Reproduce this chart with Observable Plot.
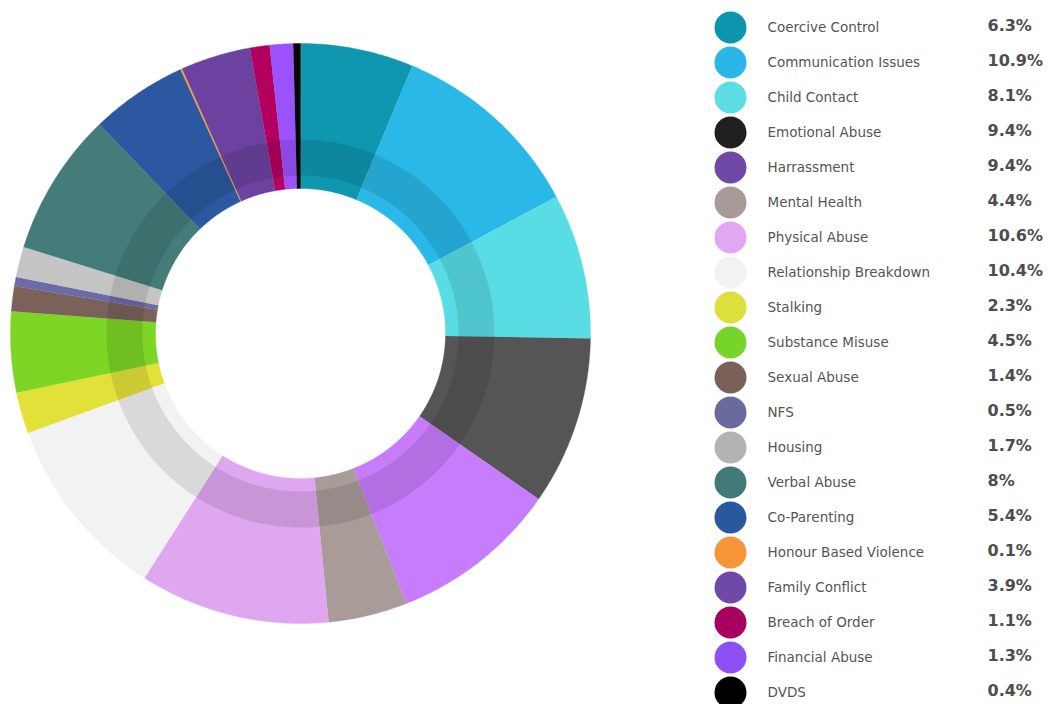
<!DOCTYPE html>
<html><head><meta charset="utf-8">
<script src="https://cdn.jsdelivr.net/npm/d3@7"></script>
<script src="https://cdn.jsdelivr.net/npm/@observablehq/plot@0.6"></script>
<style>
body{margin:0;background:#fff;}
#wrap{position:relative;width:1052px;height:704px;overflow:hidden;}
#donut{position:absolute;left:0;top:0;}
#legend{position:absolute;left:700px;top:0;}
g[aria-label="pct"] text{letter-spacing:1px;}
</style></head><body><div id="wrap"><div id="donut"></div><div id="legend"></div></div>
<script>
const categories = ["Coercive Control","Communication Issues","Child Contact","Emotional Abuse","Harrassment","Mental Health","Physical Abuse","Relationship Breakdown","Stalking","Substance Misuse","Sexual Abuse","NFS","Housing","Verbal Abuse","Co-Parenting","Honour Based Violence","Family Conflict","Breach of Order","Financial Abuse","DVDS"];
const percentages = [6.3,10.9,8.1,9.4,9.4,4.4,10.6,10.4,2.3,4.5,1.4,0.5,1.7,8,5.4,0.1,3.9,1.1,1.3,0.4];
const sliceColors = ["#1097b0","#29b8e8","#58dde5","#555555","#c77cfc","#a89b98","#dfa7f0","#f2f2f2","#e1e13a","#7dd524","#7a625b","#6c6ba8","#c5c5c5","#447c79","#2b58a1","#f7963a","#6b42a0","#b3005f","#9a52fb","#050505"];
const legendColors = ["#0d95ad","#29b6e8","#5ddde6","#221f1f","#6f48a8","#a89a98","#e0a8f0","#f2f2f2","#dde03c","#77d428","#7a6058","#6a6a9e","#b3b3b3","#417978","#2a589f","#f7953a","#7049a8","#a8005e","#8e4ff5","#000000"];

const rows = categories.map((name, i) => ({name, value: percentages[i], sliceColor: sliceColors[i], legendColor: legendColors[i]}));

// geometry (radii relative to outer radius)
const W = 600, H = 704, CX = 300, CY = 333, R = 290;
const R_OUT = 1, R_IN = 145 / R, BAND_IN = 158 / R, BAND_OUT = 194 / R;

function ring(a0, a1, r0, r1, key, extra) {
  const n = Math.max(2, Math.ceil((a1 - a0) / (Math.PI / 360)));
  const pts = [];
  for (let i = 0; i <= n; ++i) { const a = a0 + (a1 - a0) * i / n; pts.push({x: r1 * Math.sin(a), y: r1 * Math.cos(a), key, ...extra}); }
  for (let i = n; i >= 0; --i) { const a = a0 + (a1 - a0) * i / n; pts.push({x: r0 * Math.sin(a), y: r0 * Math.cos(a), key, ...extra}); }
  return pts;
}

const arcs = d3.pie().sort(null).value(d => d.value)(rows);
const slicePts = arcs.flatMap(a => ring(a.startAngle, a.endAngle, R_IN, R_OUT, a.data.name, {fillColor: a.data.sliceColor}));
const bandPts = ring(0, 2 * Math.PI, BAND_IN, BAND_OUT, "band", {});

const donut = Plot.plot({
  width: W, height: H, margin: 0,
  x: {domain: [-CX / R, (W - CX) / R], axis: null},
  y: {domain: [-(H - CY) / R, CY / R], axis: null},
  marks: [
    Plot.line(slicePts, {x: "x", y: "y", z: "key", fill: "fillColor", stroke: "fillColor", strokeWidth: 0.4}),
    Plot.line(bandPts, {x: "x", y: "y", z: "key", fill: "black", fillOpacity: 0.1, stroke: "none"})
  ]
});
document.getElementById("donut").append(donut);

const legend = Plot.plot({
  width: 352, height: 704, margin: 0,
  y: {type: "point", domain: categories, range: [26, 692], padding: 0, axis: null},
  marks: [
    Plot.dot(rows, {y: "name", frameAnchor: "left", dx: 30, r: 16, fill: "legendColor", stroke: "none"}),
    Plot.text(rows, {y: "name", text: "name", frameAnchor: "left", dx: 67, textAnchor: "start", fill: "#555", fontSize: 13.5, fontFamily: "DejaVu Sans"}),
    Plot.text(rows, {y: "name", text: d => d.value + "%", frameAnchor: "left", dx: 287, dy: -2, textAnchor: "start", fill: "#4d4d4d", fontSize: 16, fontWeight: "bold", fontFamily: "DejaVu Sans", ariaLabel: "pct"})
  ]
});
document.getElementById("legend").append(legend);
</script></body></html>
